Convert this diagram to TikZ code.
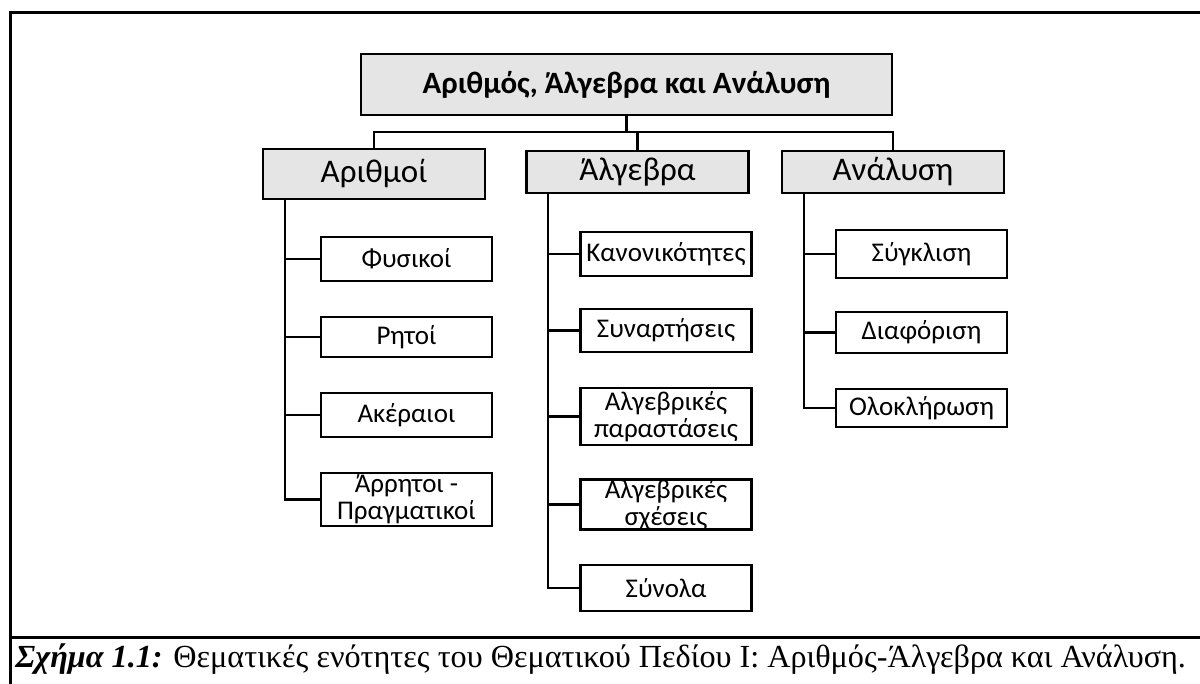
\documentclass[tikz,border=0pt]{standalone}
\usepackage{fontspec}
\setmainfont{Liberation Serif}
\newfontfamily\boxfont{Carlito}
\usetikzlibrary{positioning}

\begin{document}
\begin{tikzpicture}[x=0.5pt,y=-0.5pt,
        box/.style = {shape=rectangle, draw, line width=1.4pt, align=center, inner sep=0pt},
        headbox/.style = {box, fill=gray!20, font=\boxfont\bfseries\fontsize{15.5}{17}\selectfont,
        minimum width=265.5pt, minimum height=30.5pt},
        areabox/.style = {box, fill=gray!20, font=\boxfont\fontsize{16.5}{18}\selectfont,
        minimum width=111pt, minimum height=21pt},
        topicbox/.style = {box, fill=white, font=\boxfont\fontsize{13.5}{13.5}\selectfont,
        minimum width=85.5pt},
        link/.style = {line width=1.1pt}]
        \useasboundingbox (0,0) rectangle (1200,684);
        % frame and caption row
        \draw[line width=1.5pt] (1200,13) -- (10,13) -- (10,684);
        \draw[line width=1.5pt] (10,637) -- (1200,637);
        \node[anchor=base west, inner sep=0pt, font=\fontsize{16.1}{18}\selectfont] (caption) at (15,667)
            {\textbf{\textit{Σχήμα 1.1:}} Θεματικές ενότητες του Θεματικού Πεδίου Ι: Αριθμός-Άλγεβρα και Ανάλυση.};
        % top level
        \node[headbox] (field) at (626.5,84.5) {Αριθμός, Άλγεβρα και Ανάλυση};
        \node[areabox, minimum height=25pt] (numbers) at (374,174) {Αριθμοί};
        \node[areabox] (algebra) at (637.5,172) {Άλγεβρα};
        \node[areabox] (analysis) at (893,172) {Ανάλυση};
        \coordinate (fork) at (626.5,132);
        \draw[link] (field.south) -- (fork);
        \draw[link] (fork) -| (numbers.north);
        \draw[link] (fork) -| (algebra.north);
        \draw[link] (fork) -| (analysis.north);
        % numbers
        \node[topicbox, minimum height=22pt] (natural) at (406.5,259) {Φυσικοί};
        \node[topicbox, minimum height=20pt] (rational) at (406.5,337) {Ρητοί};
        \node[topicbox, minimum height=22pt] (integer) at (406.5,415) {Ακέραιοι};
        \node[topicbox, minimum height=26.5pt] (real) at (406.5,499.5) {Άρρητοι -\\Πραγματικοί};
        \foreach \child in {natural,rational,integer,real}
            \draw[link] ([xshift=11.5pt]numbers.south west) |- (\child.west);
        % algebra
        \node[topicbox, minimum height=22pt] (pattern) at (666,254) {Κανονικότητες};
        \node[topicbox, minimum height=21.5pt] (function) at (666,330.5) {Συναρτήσεις};
        \node[topicbox, minimum height=28.5pt] (expression) at (666,416.5) {Αλγεβρικές\\παραστάσεις};
        \node[topicbox, minimum height=24.5pt] (relation) at (666,504.5) {Αλγεβρικές\\σχέσεις};
        \node[topicbox, minimum height=23pt] (sets) at (666,588) {Σύνολα};
        \foreach \child in {pattern,function,expression,relation,sets}
            \draw[link] ([xshift=11.5pt]algebra.south west) |- (\child.west);
        % analysis
        \node[topicbox, minimum height=24pt] (limit) at (921.5,254) {Σύγκλιση};
        \node[topicbox, minimum height=20.5pt] (derivative) at (921.5,332.5) {Διαφόριση};
        \node[topicbox, minimum height=19pt] (integral) at (921.5,408) {Ολοκλήρωση};
        \foreach \child in {limit,derivative,integral}
            \draw[link] ([xshift=11.5pt]analysis.south west) |- (\child.west);
\end{tikzpicture}
\end{document}
